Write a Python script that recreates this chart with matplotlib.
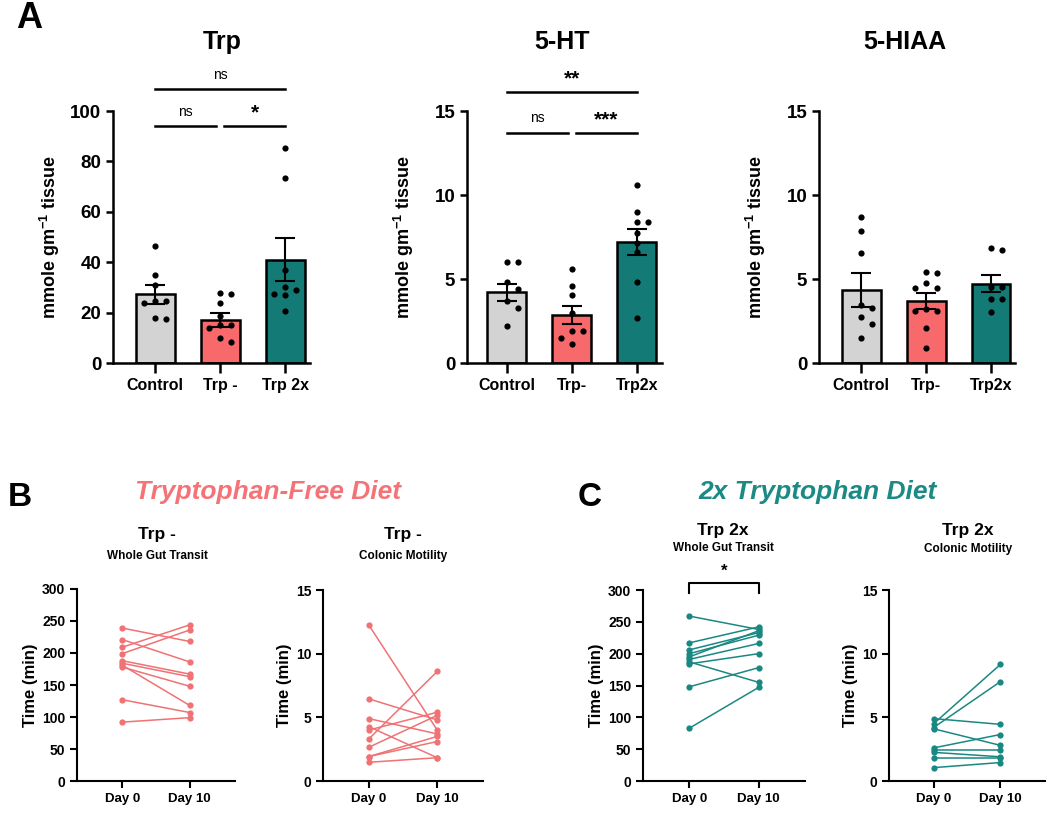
import matplotlib
matplotlib.use("Agg")
import matplotlib.pyplot as plt
import numpy as np

plt.rcParams['font.family'] = ['Liberation Sans', 'DejaVu Sans']
plt.rcParams['font.weight'] = 'bold'
plt.rcParams['mathtext.fontset'] = 'custom'
plt.rcParams['mathtext.rm'] = 'Liberation Sans:bold'
plt.rcParams['mathtext.default'] = 'rm'

# ---------------- data ----------------
trp_labels = ["Control", "Trp -", "Trp 2x"]
ht_labels = ["Control", "Trp-", "Trp2x"]
hiaa_labels = ["Control", "Trp-", "Trp2x"]

trp_means = [27.2, 17.0, 41.0]
trp_sem = [3.7, 2.7, 8.6]
trp_pts = [[46.5, 35, 31, 24.5, 24.5, 24, 17.5, 18],
           [27.2, 27.8, 24, 18.5, 15, 15, 14, 10, 8.3],
           [85.5, 73.5, 37, 30, 29, 27.5, 27, 20.5]]

ht_means = [4.22, 2.87, 7.2]
ht_sem = [0.5, 0.55, 0.8]
ht_pts = [[6.0, 6.0, 4.8, 4.4, 3.7, 3.3, 2.2],
          [5.6, 4.6, 4.05, 2.95, 1.92, 1.88, 1.5, 1.13],
          [10.6, 9.0, 8.4, 8.4, 7.75, 7.15, 6.6, 4.85, 2.7]]

hiaa_means = [4.36, 3.7, 4.72]
hiaa_sem = [1.0, 0.47, 0.52]
hiaa_pts = [[8.7, 7.85, 6.55, 3.45, 3.3, 2.75, 2.35, 1.5],
            [5.35, 5.4, 4.45, 4.45, 4.75, 3.1, 3.2, 3.1, 2.1, 0.87],
            [6.85, 6.7, 4.5, 4.5, 3.8, 3.8, 3.05]]

days = ["Day 0", "Day 10"]
bwgt_d0 = [239, 221, 209, 199, 188, 184, 181, 178, 127, 92]
bwgt_d10 = [218, 186, 244, 236, 167, 163, 118, 148, 107, 99]
bcm_d0 = [12.25, 6.45, 4.9, 4.27, 4.0, 3.3, 2.65, 1.92, 1.92, 1.47]
bcm_d10 = [4.0, 4.8, 3.7, 1.83, 5.4, 8.6, 5.15, 3.5, 3.1, 1.83]
cwgt_d0 = [259, 217, 206, 200, 195, 191, 187, 184, 148, 83]
cwgt_d10 = [238, 242, 233, 229, 236, 216, 155, 200, 178, 147]
ccm_d0 = [4.9, 4.5, 4.2, 4.1, 2.6, 2.4, 2.25, 1.8, 1.05]
ccm_d10 = [4.45, 9.15, 7.8, 2.8, 3.65, 2.4, 1.9, 1.8, 1.45]

GREY = '#D3D3D3'
SALMON = '#F7696B'
TEAL = '#147A76'
SALMON_L = '#F07275'
TEAL_L = '#1A8882'

W, H = 1050, 813
fig = plt.figure(figsize=(W / 100, H / 100), dpi=100)


def add_ax(l, t, r, b):
    return fig.add_axes([l / W, 1 - b / H, (r - l) / W, (b - t) / H])


def style(ax, lw=1.8, ls=11, tl=5):
    for s in ['top', 'right']:
        ax.spines[s].set_visible(False)
    for s in ['left', 'bottom']:
        ax.spines[s].set_linewidth(lw)
    ax.tick_params(width=lw, length=tl, labelsize=ls, direction='out')
    for lab in ax.get_yticklabels():
        lab.set_fontweight('bold')


def swarm(vals, ymax, axh_px, dx=0.17, thr_px=7.5):
    pxu = axh_px / ymax
    order = np.argsort(vals)[::-1]
    placed = []
    xs = np.zeros(len(vals))
    for i in order:
        y = vals[i]
        k = 0
        cands = [0]
        for m in range(1, 6):
            cands += [m, -m]
        for c in cands:
            ok = True
            for (px, py) in placed:
                if abs(px - c) < 0.5 and abs(py - y) * pxu < thr_px:
                    ok = False
                    break
            if ok:
                k = c
                break
        placed.append((k, y))
        xs[i] = k * dx
    return xs


def bar_panel(ax, labels, means, sems, pts, ymax, yticks, xlim, title, tx):
    x = np.arange(len(labels))
    ax.bar(x, means, width=0.6, color=[GREY, SALMON, TEAL], edgecolor='black',
           linewidth=1.8, zorder=2)
    ax.errorbar(x, means, yerr=sems, fmt='none', ecolor='black', elinewidth=1.5,
                capsize=7, capthick=1.5, zorder=3)
    for i, p in enumerate(pts):
        off = swarm(np.array(p, float), ymax, 252)
        ax.scatter(i + off, p, s=20, color='black', zorder=4, linewidths=0)
    ax.set_xlim(*xlim)
    ax.set_ylim(0, ymax)
    ax.set_yticks(yticks)
    ax.set_xticks(x)
    ax.set_xticklabels(labels, fontsize=11.5, fontweight='bold')
    style(ax, ls=13.5)
    ax.tick_params(axis='x', length=7, labelsize=11.5)
    ax.set_ylabel('mmole gm$^{-1}$ tissue', fontsize=13, fontweight='bold')
    ax.yaxis.set_label_coords(-51 / ax.bbox.width * 1.0, 0.5)
    fig.text(tx / W, 1 - 42 / H, title, fontsize=18, fontweight='bold',
             ha='center', va='center')


ax1 = add_ax(113, 111, 310, 363)
bar_panel(ax1, trp_labels, trp_means, trp_sem, trp_pts, 100, [0, 20, 40, 60, 80, 100],
          (-0.65, 2.38), 'Trp', 222)
ax2 = add_ax(467, 111, 662, 363)
bar_panel(ax2, ht_labels, ht_means, ht_sem, ht_pts, 15, [0, 5, 10, 15],
          (-0.615, 2.385), '5-HT', 562)
ax3 = add_ax(819, 111, 1015, 363)
bar_panel(ax3, hiaa_labels, hiaa_means, hiaa_sem, hiaa_pts, 15, [0, 5, 10, 15],
          (-0.65, 2.37), '5-HIAA', 905)


def sig(ax, x0, x1, yf, txt, big):
    ax.plot([x0, x1], [yf, yf], color='black', lw=1.8,
            transform=ax.get_xaxis_transform(), clip_on=False)
    if big:
        ax.text((x0 + x1) / 2, yf + 0.015, txt, transform=ax.get_xaxis_transform(),
                ha='center', va='bottom', fontsize=15, fontweight='bold')
    else:
        ax.text((x0 + x1) / 2, yf + 0.03, txt, transform=ax.get_xaxis_transform(),
                ha='center', va='bottom', fontsize=10, fontweight='normal')


sig(ax1, 0, 2, 1.087, 'ns', False)
sig(ax1, 0, 0.94, 0.94, 'ns', False)
sig(ax1, 1.06, 2, 0.94, '*', True)
sig(ax2, 0, 2, 1.075, '**', True)
sig(ax2, 0, 0.94, 0.913, 'ns', False)
sig(ax2, 1.06, 2, 0.913, '***', True)


def line_panel(ax, d0, d1, ymax, yticks, color):
    for a, b in zip(d0, d1):
        ax.plot([0, 1], [a, b], color=color, lw=1.1, marker='o', ms=4.5,
                markeredgewidth=0, zorder=3, clip_on=False)
    ax.set_xlim(-0.67, 1.67)
    ax.set_ylim(0, ymax)
    ax.set_yticks(yticks)
    ax.set_xticks([0, 1])
    ax.set_xticklabels(days, fontsize=9.5, fontweight='bold')
    style(ax, lw=1.5, ls=10, tl=5)
    ax.tick_params(axis='x', labelsize=9.5)
    ax.set_ylabel('Time (min)', fontsize=12, fontweight='bold', labelpad=3)


b1 = add_ax(77, 589, 235, 781)
line_panel(b1, bwgt_d0, bwgt_d10, 300, [0, 50, 100, 150, 200, 250, 300], SALMON_L)
b2 = add_ax(323, 590, 483, 781)
line_panel(b2, bcm_d0, bcm_d10, 15, [0, 5, 10, 15], SALMON_L)
c1 = add_ax(643, 590, 805, 781)
line_panel(c1, cwgt_d0, cwgt_d10, 300, [0, 50, 100, 150, 200, 250, 300], TEAL_L)
c2 = add_ax(889, 590, 1045, 781)
line_panel(c2, ccm_d0, ccm_d10, 15, [0, 5, 10, 15], TEAL_L)

# bracket in C whole gut transit
c1.plot([0, 0, 1, 1], [296, 311, 311, 296], color='black', lw=1.5, clip_on=False)
c1.text(0.5, 318, '*', ha='center', va='bottom', fontsize=12, fontweight='bold')

# subtitles
for cx, t1, t2, y1, y2 in [(157, 'Trp -', 'Whole Gut Transit', 535, 556),
                           (403, 'Trp -', 'Colonic Motility', 535, 556),
                           (723, 'Trp 2x', 'Whole Gut Transit', 530, 548),
                           (968, 'Trp 2x', 'Colonic Motility', 530, 549)]:
    fig.text(cx / W, 1 - y1 / H, t1, fontsize=12.5, fontweight='bold', ha='center', va='center')
    fig.text(cx / W, 1 - y2 / H, t2, fontsize=8.5, fontweight='bold', ha='center', va='center')

fig.text(268 / W, 1 - 492 / H, 'Tryptophan-Free Diet', fontsize=19, fontweight='bold',
         style='italic', color='#F47376', ha='center', va='center')
fig.text(818 / W, 1 - 492 / H, '2x Tryptophan Diet', fontsize=19, fontweight='bold',
         style='italic', color='#1B8A85', ha='center', va='center')

fig.text(16 / W, 1 - 19 / H, 'A', fontsize=26, fontweight='bold', ha='left', va='center')
fig.text(8 / W, 1 - 497 / H, 'B', fontsize=24, fontweight='bold', ha='left', va='center')
fig.text(578 / W, 1 - 497 / H, 'C', fontsize=24, fontweight='bold', ha='left', va='center')

fig.savefig('out.png', dpi=100, facecolor='white')
